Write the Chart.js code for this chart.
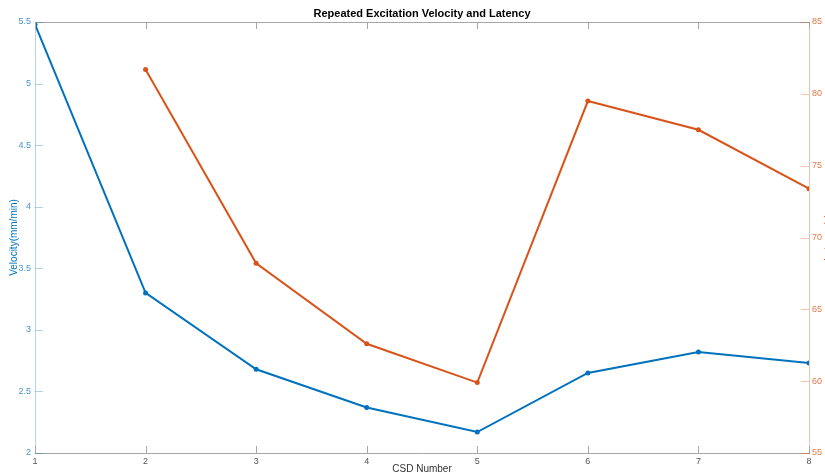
<!DOCTYPE html>
<html>
<head>
<meta charset="utf-8">
<script src="https://cdn.jsdelivr.net/npm/chart.js@4/dist/chart.umd.min.js"></script>
<style>
  html, body { margin: 0; padding: 0; background: #fff; }
  #wrap { width: 825px; height: 475px; }
</style>
</head>
<body>
<div id="wrap"><canvas id="chart-1"></canvas></div>
<script>
const csdNumbers = [1, 2, 3, 4, 5, 6, 7, 8];
const velocity = [5.48, 3.30, 2.68, 2.37, 2.17, 2.65, 2.82, 2.73];
const latency = [null, 81.7, 68.2, 62.6, 59.9, 79.5, 77.5, 73.4];
const velocityTicks = [2, 2.5, 3, 3.5, 4, 4.5, 5, 5.5];
const latencyTicks = [55, 60, 65, 70, 75, 80, 85];
const chartTitle = "Repeated Excitation Velocity and Latency";

const blue = "#0072BD";
const orange = "#D95319";
const fontFamily = "'Liberation Sans', Arial, Helvetica, sans-serif";

// MATLAB style box: inward ticks + top line, title over the axes, clipped right label
const boxPlugin = {
  id: "box",
  afterDraw(chart) {
    const { ctx, chartArea: { top, bottom, left, right }, scales: { x, y, y1 } } = chart;
    ctx.save();
    ctx.lineWidth = 1;
    ctx.strokeStyle = "#a6a6a6";
    ctx.beginPath();
    ctx.moveTo(left, top + 0.5);
    ctx.lineTo(right, top + 0.5);
    csdNumbers.forEach((v) => {
      const px = Math.round(x.getPixelForValue(v)) + 0.5;
      ctx.moveTo(px, bottom);
      ctx.lineTo(px, bottom - 7);
      ctx.moveTo(px, top);
      ctx.lineTo(px, top + 7);
    });
    ctx.stroke();

    ctx.strokeStyle = "rgba(0,114,189,0.3)";
    ctx.beginPath();
    velocityTicks.forEach((v) => {
      const py = Math.round(y.getPixelForValue(v)) + 0.5;
      ctx.moveTo(left, py);
      ctx.lineTo(left + 8, py);
    });
    ctx.stroke();

    ctx.strokeStyle = "rgba(217,83,25,0.35)";
    ctx.beginPath();
    latencyTicks.forEach((v) => {
      const py = Math.round(y1.getPixelForValue(v)) + 0.5;
      ctx.moveTo(right, py);
      ctx.lineTo(right - 8, py);
    });
    ctx.stroke();

    ctx.fillStyle = "#000";
    ctx.font = "bold 11px " + fontFamily;
    ctx.textAlign = "center";
    ctx.textBaseline = "middle";
    ctx.fillText(chartTitle, (left + right) / 2, 14);

    // right axis label sits mostly outside the canvas
    ctx.translate(829, (top + bottom) / 2);
    ctx.rotate(-Math.PI / 2);
    ctx.fillStyle = orange;
    ctx.font = "10px " + fontFamily;
    ctx.fillText("Latency(s)", 0, 0);
    ctx.restore();
  },
};

const ctx1 = document.getElementById("chart-1").getContext("2d");
const chart1 = new Chart(ctx1, {
  type: "line",
  data: {
    datasets: [
      {
        label: "Velocity",
        data: csdNumbers.map((n, i) => ({ x: n, y: velocity[i] })),
        borderColor: blue,
        backgroundColor: blue,
        borderWidth: 2,
        pointRadius: 2.5,
        pointBorderWidth: 0,
        yAxisID: "y",
        tension: 0,
      },
      {
        label: "Latency",
        data: csdNumbers.map((n, i) => ({ x: n, y: latency[i] })),
        borderColor: orange,
        backgroundColor: orange,
        borderWidth: 2,
        pointRadius: 2.5,
        pointBorderWidth: 0,
        yAxisID: "y1",
        tension: 0,
      },
    ],
  },
  plugins: [boxPlugin],
  options: {
    responsive: true,
    maintainAspectRatio: false,
    animation: false,
    layout: { padding: { top: 22 } },
    plugins: {
      legend: { display: false },
      tooltip: { enabled: false },
      title: { display: false },
    },
    scales: {
      x: {
        type: "linear",
        min: 1,
        max: 8,
        grid: { display: false, drawTicks: false },
        border: { color: "#a6a6a6", width: 1 },
        ticks: {
          stepSize: 1,
          color: "#555",
          padding: 3,
          maxRotation: 0,
          font: { family: fontFamily, size: 9 },
        },
        title: {
          display: true,
          text: "CSD Number",
          color: "#333",
          font: { family: fontFamily, size: 10 },
          padding: { top: 0, bottom: 0 },
        },
        afterFit(scale) {
          scale.height = 22;
        },
      },
      y: {
        position: "left",
        min: 2,
        max: 5.5,
        grid: { display: false, drawTicks: false },
        border: { color: "rgba(0,114,189,0.3)", width: 1 },
        afterBuildTicks(scale) {
          scale.ticks = velocityTicks.map((v) => ({ value: v }));
        },
        ticks: {
          color: "#4a93cc",
          padding: 4,
          font: { family: fontFamily, size: 9 },
          callback: (v) => String(v),
        },
        title: {
          display: true,
          text: "Velocity(mm/min)",
          color: blue,
          font: { family: fontFamily, size: 10 },
          padding: { top: 8, bottom: 0 },
        },
        afterFit(scale) {
          scale.width = 35;
        },
      },
      y1: {
        position: "right",
        min: 55,
        max: 85,
        grid: { display: false, drawTicks: false },
        border: { color: "rgba(217,83,25,0.35)", width: 1 },
        afterBuildTicks(scale) {
          scale.ticks = latencyTicks.map((v) => ({ value: v }));
        },
        ticks: {
          color: "#e27a4a",
          padding: 3,
          font: { family: fontFamily, size: 9 },
          callback: (v) => String(v),
        },
        afterFit(scale) {
          scale.width = 16;
        },
      },
    },
  },
});
</script>
</body>
</html>
